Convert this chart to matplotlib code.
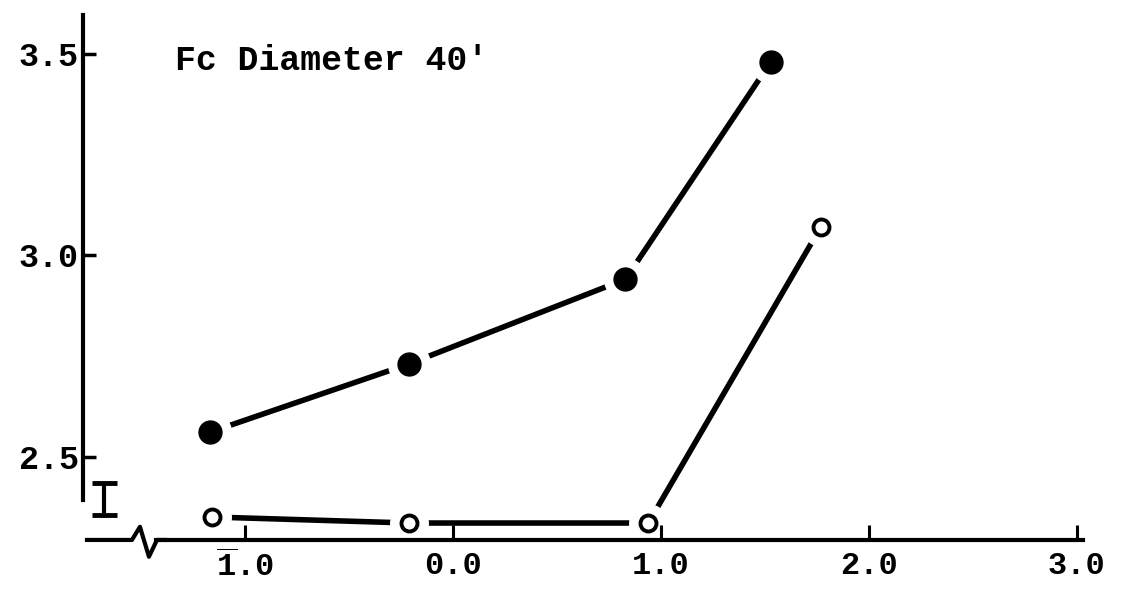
"""Fc diameter 40' chart, redrawn from a scanned figure."""
import matplotlib
matplotlib.use("Agg")
import matplotlib.pyplot as plt

plt.rcParams["font.family"] = ["Liberation Mono", "DejaVu Sans Mono"]
plt.rcParams["font.weight"] = "bold"
plt.rcParams["mathtext.fontset"] = "custom"
plt.rcParams["mathtext.rm"] = "Liberation Mono:bold"
plt.rcParams["mathtext.bf"] = "Liberation Mono:bold"
plt.rcParams["mathtext.it"] = "Liberation Mono:bold"

# values
filled_x = [-1.17, -0.21, 0.83, 1.53]
filled_y = [2.56, 2.73, 2.94, 3.48]
open_x = [-1.16, -0.21, 0.94, 1.77]
open_y = [2.35, 2.335, 2.335, 3.07]

x_ticks = [-1.0, 0.0, 1.0, 2.0, 3.0]
x_labels = [r"$\overline{\mathrm{1}}$.0", "0.0", "1.0", "2.0", "3.0"]
y_ticks = [2.5, 3.0, 3.5]
y_labels = ["2.5", "3.0", "3.5"]

# error-bar key drawn next to the axis
bar_x, bar_y, bar_err = -1.68, 2.395, 0.04

title = "Fc Diameter 40'"

fig = plt.figure(figsize=(11.21, 5.94), dpi=100)
ax = fig.add_axes([0.074, 0.091, 0.892, 0.884])

ax.plot(filled_x, filled_y, color="black", lw=4, solid_capstyle="round", zorder=2)
ax.plot(open_x, open_y, color="black", lw=4, solid_capstyle="round", zorder=2)
# white halos so the lines stop short of the markers, like the original
ax.plot(filled_x, filled_y, "o", ms=30, color="white", zorder=3)
ax.plot(open_x, open_y, "o", ms=27, color="white", zorder=3)
ax.plot(filled_x, filled_y, "o", ms=16.5, color="black", zorder=4)
ax.plot(open_x, open_y, "o", ms=11.5, mfc="white", mec="black", mew=2.8, zorder=4)

ax.errorbar([bar_x], [bar_y], yerr=[bar_err], fmt="none", ecolor="black",
            elinewidth=3, capsize=9, capthick=3.5, zorder=4)

ax.set_xlim(-1.779, 3.03)
ax.set_ylim(2.293, 3.596)

ax.set_xticks(x_ticks)
ax.set_xticklabels(x_labels)
ax.set_yticks(y_ticks)
ax.set_yticklabels(y_labels)
ax.tick_params(axis="x", direction="in", length=11, width=2.2, pad=8, labelsize=23)
ax.tick_params(axis="y", direction="in", length=9, width=2.5, pad=3, labelsize=24)

for s in ("top", "right"):
    ax.spines[s].set_visible(False)
ax.spines["left"].set_linewidth(3)
ax.spines["left"].set_bounds(2.392, 3.596)
ax.spines["bottom"].set_linewidth(3)
ax.spines["bottom"].set_bounds(-1.43, 3.03)
for s in ax.spines.values():
    s.set_zorder(6)
ax.xaxis.set_zorder(6)
ax.yaxis.set_zorder(6)

# axis break zigzag at the left end of the x axis
ax.plot([0.004, 0.049, 0.057, 0.066, 0.074, 0.082],
        [0.0, 0.0, 0.025, -0.032, 0.0, 0.0],
        color="black", lw=3, transform=ax.transAxes, clip_on=False, zorder=6)

ax.text(0.092, 0.914, title, transform=ax.transAxes, fontsize=25,
        fontweight="bold", ha="left", va="center")

fig.savefig("out.png", dpi=100)
